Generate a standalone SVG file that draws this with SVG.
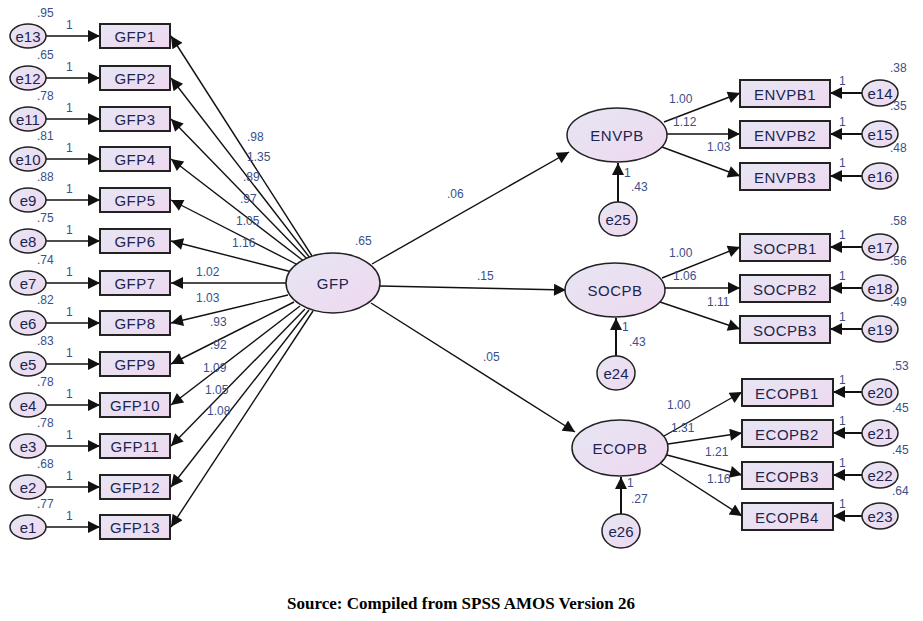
<svg xmlns="http://www.w3.org/2000/svg" width="923" height="621" viewBox="0 0 923 621">
<style>
.b{fill:url(#g);stroke:#222;stroke-width:2}
.e{fill:url(#g);stroke:#222;stroke-width:1.5}
.t{font-family:"Liberation Sans",Arial,sans-serif;font-size:15px;letter-spacing:0.5px;fill:#1a2550;text-anchor:middle;dominant-baseline:central}
.te{font-family:"Liberation Sans",Arial,sans-serif;font-size:15px;fill:#1a2550;text-anchor:middle;dominant-baseline:central}
.l{font-family:"Liberation Sans",Arial,sans-serif;font-size:12px;fill:#3a4f8a}
.c line{stroke:#111;stroke-width:1.4;marker-end:url(#A)}
.c line.k{stroke-width:2}
</style>
<defs>
<linearGradient id="g" x1="0" y1="0" x2="1" y2="1"><stop offset="0" stop-color="#e6e6f4"/><stop offset="1" stop-color="#efd8ef"/></linearGradient>
<marker id="A" viewBox="0 0 10 10" refX="10" refY="5" markerWidth="20" markerHeight="12" markerUnits="userSpaceOnUse" orient="auto"><path d="M0,0L10,5L0,10z" fill="#111"/></marker>
</defs>
<rect width="923" height="621" fill="#fff"/>
<g class="c" id="connectors">
<line x1="46" y1="36" x2="100" y2="36"/><line x1="46" y1="78" x2="100" y2="78"/><line x1="46" y1="119" x2="100" y2="119"/><line x1="46" y1="159" x2="100" y2="159"/><line x1="46" y1="200" x2="100" y2="200"/><line x1="46" y1="241" x2="100" y2="241"/><line x1="46" y1="283" x2="100" y2="283"/><line x1="46" y1="323" x2="100" y2="323"/><line x1="46" y1="364" x2="100" y2="364"/><line x1="46" y1="405" x2="100" y2="405"/><line x1="46" y1="446" x2="100" y2="446"/><line x1="46" y1="487" x2="100" y2="487"/><line x1="46" y1="527" x2="100" y2="527"/>
<line x1="312" y1="256" x2="171" y2="36"/><line x1="310" y1="258" x2="171" y2="78"/><line x1="308" y1="260" x2="171" y2="119"/><line x1="305" y1="262" x2="171" y2="159"/><line x1="300" y1="266" x2="171" y2="200"/><line x1="292" y1="272" x2="171" y2="241"/><line x1="286" y1="283" x2="171" y2="283"/><line x1="288" y1="295" x2="171" y2="323"/><line x1="294" y1="302" x2="171" y2="364"/><line x1="300" y1="306" x2="171" y2="405"/><line x1="305" y1="309" x2="171" y2="446"/><line x1="309" y1="310" x2="171" y2="487"/><line x1="313" y1="311" x2="171" y2="527"/>
<line x1="372" y1="264" x2="569" y2="152"/><line x1="380" y1="286" x2="566" y2="290"/><line x1="371" y1="303" x2="575" y2="432"/>
<line class="k" x1="618" y1="202" x2="618" y2="163"/><line class="k" x1="616" y1="356" x2="616" y2="318"/><line class="k" x1="621" y1="514" x2="621" y2="477"/>
<line x1="664" y1="122" x2="740" y2="93"/><line x1="667" y1="134" x2="740" y2="134"/><line x1="662" y1="147" x2="740" y2="176"/>
<line x1="662" y1="278" x2="740" y2="247"/><line x1="665" y1="288" x2="740" y2="288"/><line x1="660" y1="302" x2="740" y2="329"/>
<line x1="664" y1="436" x2="742" y2="392"/><line x1="668" y1="444" x2="742" y2="433"/><line x1="667" y1="455" x2="742" y2="475"/><line x1="660" y1="463" x2="742" y2="516"/>
<line class="k" x1="862" y1="93" x2="830" y2="93"/><line class="k" x1="862" y1="134" x2="830" y2="134"/><line class="k" x1="862" y1="176" x2="830" y2="176"/>
<line class="k" x1="862" y1="247" x2="830" y2="247"/><line class="k" x1="862" y1="288" x2="830" y2="288"/><line class="k" x1="862" y1="329" x2="830" y2="329"/>
<line class="k" x1="862" y1="392" x2="833" y2="392"/><line class="k" x1="862" y1="433" x2="833" y2="433"/><line class="k" x1="862" y1="475" x2="833" y2="475"/><line class="k" x1="862" y1="516" x2="833" y2="516"/>
</g>
<g id="GFP"><ellipse class="e" cx="333" cy="283" rx="47" ry="30"/><text class="t" x="333" y="283">GFP</text></g>
<g id="ENVPB"><ellipse class="e" cx="617" cy="135" rx="50" ry="27"/><text class="t" x="617" y="135">ENVPB</text></g>
<g id="SOCPB"><ellipse class="e" cx="615" cy="290" rx="50" ry="27"/><text class="t" x="615" y="290">SOCPB</text></g>
<g id="ECOPB"><ellipse class="e" cx="620" cy="448" rx="48" ry="28"/><text class="t" x="620" y="448">ECOPB</text></g>
<g id="e25"><ellipse class="e" cx="618" cy="219" rx="19" ry="17"/><text class="te" x="618" y="219">e25</text></g>
<g id="e24"><ellipse class="e" cx="616" cy="373" rx="19" ry="17"/><text class="te" x="616" y="373">e24</text></g>
<g id="e26"><ellipse class="e" cx="621" cy="531" rx="19" ry="17"/><text class="te" x="621" y="531">e26</text></g>
<g id="GFP1"><rect class="b" x="100" y="24" width="70" height="24"/><text class="t" x="135" y="36">GFP1</text></g>
<g id="GFP2"><rect class="b" x="100" y="66" width="70" height="24"/><text class="t" x="135" y="78">GFP2</text></g>
<g id="GFP3"><rect class="b" x="100" y="107" width="70" height="24"/><text class="t" x="135" y="119">GFP3</text></g>
<g id="GFP4"><rect class="b" x="100" y="147" width="70" height="24"/><text class="t" x="135" y="159">GFP4</text></g>
<g id="GFP5"><rect class="b" x="100" y="188" width="70" height="24"/><text class="t" x="135" y="200">GFP5</text></g>
<g id="GFP6"><rect class="b" x="100" y="229" width="70" height="24"/><text class="t" x="135" y="241">GFP6</text></g>
<g id="GFP7"><rect class="b" x="100" y="271" width="70" height="24"/><text class="t" x="135" y="283">GFP7</text></g>
<g id="GFP8"><rect class="b" x="100" y="311" width="70" height="24"/><text class="t" x="135" y="323">GFP8</text></g>
<g id="GFP9"><rect class="b" x="100" y="352" width="70" height="24"/><text class="t" x="135" y="364">GFP9</text></g>
<g id="GFP10"><rect class="b" x="100" y="393" width="70" height="24"/><text class="t" x="135" y="405">GFP10</text></g>
<g id="GFP11"><rect class="b" x="100" y="434" width="70" height="24"/><text class="t" x="135" y="446">GFP11</text></g>
<g id="GFP12"><rect class="b" x="100" y="475" width="70" height="24"/><text class="t" x="135" y="487">GFP12</text></g>
<g id="GFP13"><rect class="b" x="100" y="515" width="70" height="24"/><text class="t" x="135" y="527">GFP13</text></g>
<g id="e13"><ellipse class="e" cx="28" cy="36" rx="18" ry="12"/><text class="te" x="28" y="36">e13</text></g>
<g id="e12"><ellipse class="e" cx="28" cy="78" rx="18" ry="12"/><text class="te" x="28" y="78">e12</text></g>
<g id="e11"><ellipse class="e" cx="28" cy="119" rx="18" ry="12"/><text class="te" x="28" y="119">e11</text></g>
<g id="e10"><ellipse class="e" cx="28" cy="159" rx="18" ry="12"/><text class="te" x="28" y="159">e10</text></g>
<g id="e9"><ellipse class="e" cx="28" cy="200" rx="18" ry="12"/><text class="te" x="28" y="200">e9</text></g>
<g id="e8"><ellipse class="e" cx="28" cy="241" rx="18" ry="12"/><text class="te" x="28" y="241">e8</text></g>
<g id="e7"><ellipse class="e" cx="28" cy="283" rx="18" ry="12"/><text class="te" x="28" y="283">e7</text></g>
<g id="e6"><ellipse class="e" cx="28" cy="323" rx="18" ry="12"/><text class="te" x="28" y="323">e6</text></g>
<g id="e5"><ellipse class="e" cx="28" cy="364" rx="18" ry="12"/><text class="te" x="28" y="364">e5</text></g>
<g id="e4"><ellipse class="e" cx="28" cy="405" rx="18" ry="12"/><text class="te" x="28" y="405">e4</text></g>
<g id="e3"><ellipse class="e" cx="28" cy="446" rx="18" ry="12"/><text class="te" x="28" y="446">e3</text></g>
<g id="e2"><ellipse class="e" cx="28" cy="487" rx="18" ry="12"/><text class="te" x="28" y="487">e2</text></g>
<g id="e1"><ellipse class="e" cx="28" cy="527" rx="18" ry="12"/><text class="te" x="28" y="527">e1</text></g>
<g id="ENVPB1"><rect class="b" x="740" y="80" width="90" height="27"/><text class="t" x="785" y="94">ENVPB1</text></g>
<g id="ENVPB2"><rect class="b" x="740" y="121" width="90" height="27"/><text class="t" x="785" y="135">ENVPB2</text></g>
<g id="ENVPB3"><rect class="b" x="740" y="163" width="90" height="27"/><text class="t" x="785" y="177">ENVPB3</text></g>
<g id="SOCPB1"><rect class="b" x="740" y="234" width="90" height="27"/><text class="t" x="785" y="248">SOCPB1</text></g>
<g id="SOCPB2"><rect class="b" x="740" y="275" width="90" height="27"/><text class="t" x="785" y="289">SOCPB2</text></g>
<g id="SOCPB3"><rect class="b" x="740" y="316" width="90" height="27"/><text class="t" x="785" y="330">SOCPB3</text></g>
<g id="ECOPB1"><rect class="b" x="742" y="379" width="91" height="27"/><text class="t" x="787" y="393">ECOPB1</text></g>
<g id="ECOPB2"><rect class="b" x="742" y="420" width="91" height="27"/><text class="t" x="787" y="434">ECOPB2</text></g>
<g id="ECOPB3"><rect class="b" x="742" y="462" width="91" height="27"/><text class="t" x="787" y="476">ECOPB3</text></g>
<g id="ECOPB4"><rect class="b" x="742" y="503" width="91" height="27"/><text class="t" x="787" y="517">ECOPB4</text></g>
<g id="e14"><ellipse class="e" cx="880" cy="93" rx="18" ry="13"/><text class="te" x="880" y="93">e14</text></g>
<g id="e15"><ellipse class="e" cx="880" cy="134" rx="18" ry="13"/><text class="te" x="880" y="134">e15</text></g>
<g id="e16"><ellipse class="e" cx="880" cy="176" rx="18" ry="13"/><text class="te" x="880" y="176">e16</text></g>
<g id="e17"><ellipse class="e" cx="880" cy="247" rx="18" ry="13"/><text class="te" x="880" y="247">e17</text></g>
<g id="e18"><ellipse class="e" cx="880" cy="288" rx="18" ry="13"/><text class="te" x="880" y="288">e18</text></g>
<g id="e19"><ellipse class="e" cx="880" cy="329" rx="18" ry="13"/><text class="te" x="880" y="329">e19</text></g>
<g id="e20"><ellipse class="e" cx="880" cy="392" rx="18" ry="13"/><text class="te" x="880" y="392">e20</text></g>
<g id="e21"><ellipse class="e" cx="880" cy="433" rx="18" ry="13"/><text class="te" x="880" y="433">e21</text></g>
<g id="e22"><ellipse class="e" cx="880" cy="475" rx="18" ry="13"/><text class="te" x="880" y="475">e22</text></g>
<g id="e23"><ellipse class="e" cx="880" cy="516" rx="18" ry="13"/><text class="te" x="880" y="516">e23</text></g>
<g class="l" id="labels">
<text x="37" y="17">.95</text><text x="37" y="59">.65</text><text x="37" y="100">.78</text><text x="37" y="140">.81</text><text x="37" y="181">.88</text><text x="37" y="222">.75</text><text x="37" y="264">.74</text><text x="37" y="304">.82</text><text x="37" y="345">.83</text><text x="37" y="386">.78</text><text x="37" y="427">.78</text><text x="37" y="468">.68</text><text x="37" y="508">.77</text>
<text x="66" y="29">1</text><text x="66" y="71">1</text><text x="66" y="112">1</text><text x="66" y="152">1</text><text x="66" y="193">1</text><text x="66" y="234">1</text><text x="66" y="276">1</text><text x="66" y="316">1</text><text x="66" y="357">1</text><text x="66" y="398">1</text><text x="66" y="439">1</text><text x="66" y="480">1</text><text x="66" y="520">1</text>
<text x="247" y="141">.98</text><text x="247" y="161">1.35</text><text x="243" y="181">.89</text><text x="240" y="203">.97</text><text x="236" y="225">1.05</text><text x="232" y="247">1.16</text><text x="196" y="276">1.02</text><text x="196" y="302">1.03</text><text x="210" y="326">.93</text><text x="210" y="349">.92</text><text x="203" y="372">1.09</text><text x="205" y="394">1.05</text><text x="207" y="415">1.08</text>
<text x="355" y="245">.65</text><text x="447" y="198">.06</text><text x="477" y="280">.15</text><text x="483" y="361">.05</text>
<text x="669" y="103">1.00</text><text x="673" y="126">1.12</text><text x="707" y="151">1.03</text>
<text x="669" y="257">1.00</text><text x="673" y="280">1.06</text><text x="707" y="306">1.11</text>
<text x="667" y="409">1.00</text><text x="671" y="432">1.31</text><text x="705" y="456">1.21</text><text x="707" y="483">1.16</text>
<text x="624" y="177">1</text><text x="631" y="191">.43</text><text x="622" y="331">1</text><text x="629" y="346">.43</text><text x="627" y="487">1</text><text x="631" y="503">.27</text>
<text x="839" y="85">1</text><text x="839" y="126">1</text><text x="839" y="167">1</text><text x="839" y="239">1</text><text x="839" y="280">1</text><text x="839" y="321">1</text><text x="839" y="384">1</text><text x="839" y="425">1</text><text x="839" y="467">1</text><text x="839" y="508">1</text>
<text x="890" y="72">.38</text><text x="890" y="110">.35</text><text x="890" y="152">.48</text><text x="890" y="225">.58</text><text x="890" y="265">.56</text><text x="890" y="306">.49</text><text x="892" y="370">.53</text><text x="892" y="412">.45</text><text x="892" y="454">.45</text><text x="892" y="495">.64</text>
</g>
<text x="461" y="609" text-anchor="middle" font-family="Liberation Serif,serif" font-weight="bold" font-size="17" fill="#000">Source: Compiled from SPSS AMOS Version 26</text>
</svg>
